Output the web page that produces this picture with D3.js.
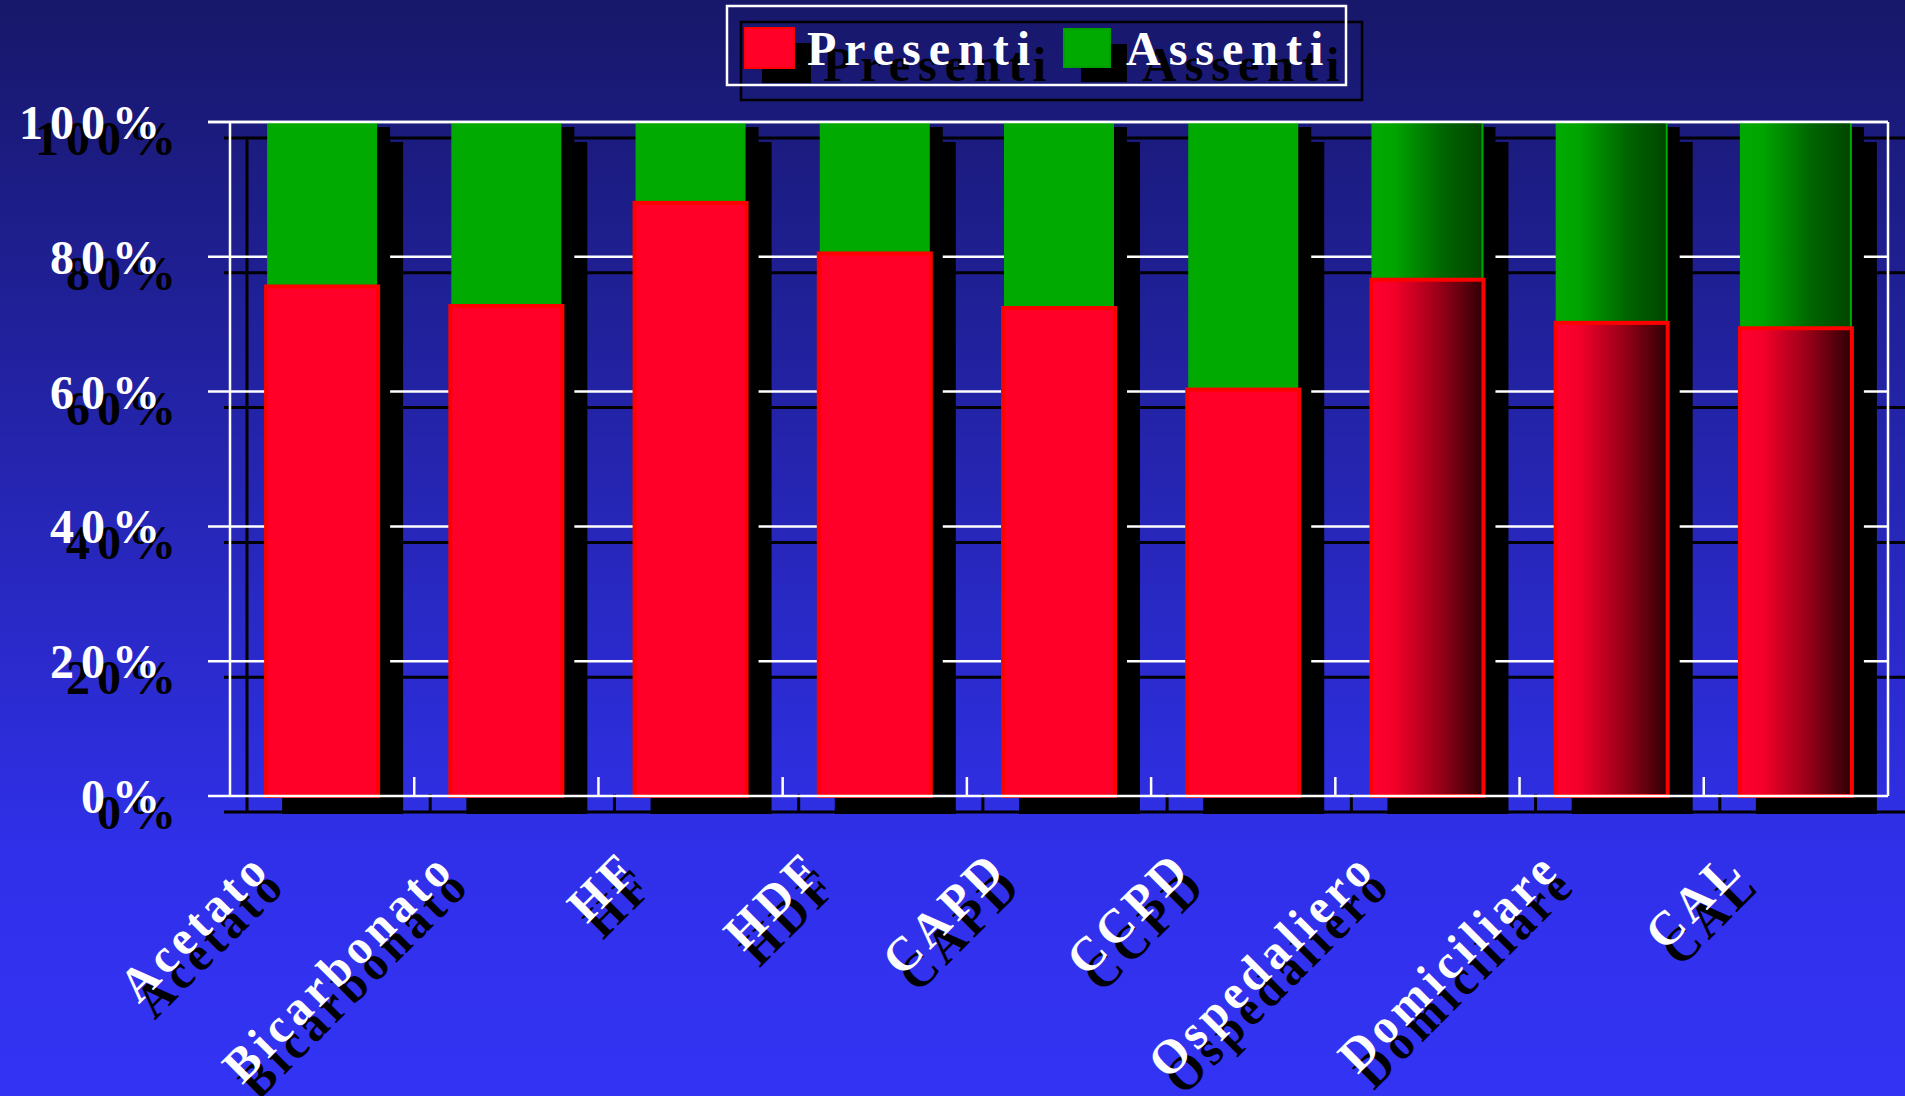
<!DOCTYPE html>
<html>
<head>
<meta charset="utf-8">
<script src="https://cdn.jsdelivr.net/npm/d3@7"></script>
<style>
  html, body { margin: 0; padding: 0; background: #2a2ad0; }
  svg { display: block; }
</style>
</head>
<body>
<div id="chart"></div>
<script>
// ---- data ----
const categories = ["Acetato", "Bicarbonato", "HF", "HDF", "CAPD", "CCPD", "Ospedaliero", "Domiciliare", "CAL"];
const presenti = [75.6, 72.7, 88.0, 80.5, 72.4, 60.3, 76.6, 70.2, 69.4];
const assenti = [24.4, 27.3, 12.0, 19.5, 27.6, 39.7, 23.4, 29.8, 30.6];
const seriesNames = ["Presenti", "Assenti"];
const yTicks = [0, 20, 40, 60, 80, 100];
const yTickLabels = ["0%", "20%", "40%", "60%", "80%", "100%"];
// categories drawn with a shaded (gradient) fill
const shadedCategories = ["Ospedaliero", "Domiciliare", "CAL"];

// ---- layout ----
const W = 1905, H = 1096;
const plot = { left: 230, right: 1888, top: 122, bottom: 796 };
const SH = { dx: 16, dy: 16 };           // drop-shadow offset
const FONT = "'Liberation Serif', 'Times New Roman', serif";

const svg = d3.select("#chart").append("svg")
  .attr("width", W).attr("height", H);

const defs = svg.append("defs");
const bg = defs.append("linearGradient").attr("id", "bg")
  .attr("x1", 0).attr("y1", 0).attr("x2", 0).attr("y2", 1);
bg.append("stop").attr("offset", "0").attr("stop-color", "#17176a");
bg.append("stop").attr("offset", "0.78").attr("stop-color", "#3030ea");
bg.append("stop").attr("offset", "1").attr("stop-color", "#3333f4");

const gRed = defs.append("linearGradient").attr("id", "gradRed")
  .attr("x1", 0).attr("y1", 0).attr("x2", 1).attr("y2", 0);
gRed.append("stop").attr("offset", "0").attr("stop-color", "#ff0030");
gRed.append("stop").attr("offset", "0.2").attr("stop-color", "#f5002a");
gRed.append("stop").attr("offset", "0.6").attr("stop-color", "#9a0018");
gRed.append("stop").attr("offset", "1").attr("stop-color", "#2e0005");

const gGreen = defs.append("linearGradient").attr("id", "gradGreen")
  .attr("x1", 0).attr("y1", 0).attr("x2", 1).attr("y2", 0);
gGreen.append("stop").attr("offset", "0").attr("stop-color", "#00aa00");
gGreen.append("stop").attr("offset", "0.2").attr("stop-color", "#00a400");
gGreen.append("stop").attr("offset", "0.65").attr("stop-color", "#006400");
gGreen.append("stop").attr("offset", "1").attr("stop-color", "#004600");

svg.append("rect").attr("width", W).attr("height", H).attr("fill", "url(#bg)");

// ---- scales ----
const x = d3.scaleBand().domain(categories)
  .range([plot.left, plot.right]).paddingInner(0.392).paddingOuter(0.196);
const y = d3.scaleLinear().domain([0, 100]).range([plot.bottom, plot.top]);

const rows = categories.map((c, i) => ({ cat: c, p: presenti[i], a: assenti[i], shaded: shadedCategories.includes(c) }));
const bw = x.bandwidth();
const step = x.step();
const boundaries = d3.range(1, categories.length).map(k => plot.left + k * step);

// ---- shadow copy of the chart (black) ----
const shadow = svg.append("g").attr("class", "shadow");
shadow.selectAll("line.sg").data(yTicks).join("line")
  .attr("x1", plot.left - 22 + SH.dx).attr("x2", W)
  .attr("y1", d => y(d) + SH.dy).attr("y2", d => y(d) + SH.dy)
  .attr("stroke", "#000").attr("stroke-width", 3);
shadow.append("line")
  .attr("x1", plot.left + 17).attr("x2", plot.left + 17)
  .attr("y1", plot.top + SH.dy).attr("y2", plot.bottom + SH.dy)
  .attr("stroke", "#000").attr("stroke-width", 3);
shadow.selectAll("line.st").data(boundaries).join("line")
  .attr("x1", d => d + SH.dx).attr("x2", d => d + SH.dx)
  .attr("y1", plot.bottom + SH.dy - 18).attr("y2", plot.bottom + SH.dy)
  .attr("stroke", "#000").attr("stroke-width", 3);
// far bar shadows
shadow.selectAll("rect.fs").data(rows).join("rect")
  .attr("x", d => x(d.cat) + 16)
  .attr("y", d => y(100) + 20)
  .attr("width", bw + 9)
  .attr("height", d => y(0) - y(100) - 2)
  .attr("fill", "#000");

// ---- white grid & frame ----
const grid = svg.append("g");
grid.selectAll("line.g").data(yTicks.filter(t => t > 0)).join("line")
  .attr("x1", plot.left - 22).attr("x2", plot.right)
  .attr("y1", d => y(d)).attr("y2", d => y(d))
  .attr("stroke", "#fff").attr("stroke-width", 2.5);
grid.append("line")
  .attr("x1", plot.left).attr("x2", plot.left)
  .attr("y1", plot.top).attr("y2", plot.bottom)
  .attr("stroke", "#fff").attr("stroke-width", 2.5);
grid.append("line")
  .attr("x1", plot.right).attr("x2", plot.right)
  .attr("y1", plot.top).attr("y2", plot.bottom)
  .attr("stroke", "#fff").attr("stroke-width", 2.5);

// near bar shadows
svg.append("g").selectAll("rect").data(rows).join("rect")
  .attr("x", d => x(d.cat) + 10)
  .attr("y", d => y(100) + 5)
  .attr("width", bw + 2)
  .attr("height", d => y(0) - y(100) - 5)
  .attr("fill", "#000");

// ---- bars ----
const bars = svg.append("g");
bars.selectAll("rect.assenti").data(rows).join("rect")
  .attr("class", "assenti")
  .attr("x", d => x(d.cat) + 1)
  .attr("y", d => y(d.p + d.a))
  .attr("width", bw - 2)
  .attr("height", d => y(d.p) - y(d.p + d.a))
  .attr("fill", d => d.shaded ? "url(#gradGreen)" : "#00aa00")
  .attr("stroke", d => d.shaded ? "#00a800" : "none")
  .attr("stroke-width", 2);
bars.selectAll("rect.presenti").data(rows).join("rect")
  .attr("class", "presenti")
  .attr("x", d => x(d.cat))
  .attr("y", d => y(d.p))
  .attr("width", bw)
  .attr("height", d => y(0) - y(d.p))
  .attr("fill", d => d.shaded ? "url(#gradRed)" : "#ff0028")
  .attr("stroke", "#ff0000")
  .attr("stroke-width", 4);

// baseline and x ticks (white, on top)
svg.append("line")
  .attr("x1", plot.left - 22).attr("x2", plot.right)
  .attr("y1", y(0)).attr("y2", y(0))
  .attr("stroke", "#fff").attr("stroke-width", 2.5);
svg.append("line")
  .attr("x1", plot.left - 22).attr("x2", plot.right)
  .attr("y1", y(100)).attr("y2", y(100))
  .attr("stroke", "#fff").attr("stroke-width", 2.5);
svg.append("g").selectAll("line").data(boundaries).join("line")
  .attr("x1", d => d).attr("x2", d => d)
  .attr("y1", plot.bottom - 19).attr("y2", plot.bottom)
  .attr("stroke", "#fff").attr("stroke-width", 2.5);

// ---- y axis labels ----
const yl = svg.append("g")
  .attr("font-family", FONT).attr("font-weight", "bold")
  .attr("font-size", 48).attr("letter-spacing", 7).attr("text-anchor", "end");
[["#000", SH.dx, SH.dy], ["#fff", 0, 0]].forEach(([col, ox, oy]) => {
  yl.append("g").selectAll("text").data(yTicks).join("text")
    .attr("x", 167 + ox).attr("y", d => y(d) + 17 + oy)
    .attr("fill", col)
    .text((d, i) => yTickLabels[i]);
});

// ---- x axis labels ----
const xl = svg.append("g")
  .attr("font-family", FONT).attr("font-weight", "bold")
  .attr("font-size", 48).attr("letter-spacing", 4.5).attr("text-anchor", "end");
[["#000", SH.dx, SH.dy], ["#fff", 0, 0]].forEach(([col, ox, oy]) => {
  xl.append("g").selectAll("text").data(categories).join("text")
    .attr("transform", d => `translate(${x(d) + bw / 2 - 50 + ox},${871 + oy}) rotate(-45)`)
    .attr("fill", col)
    .text(d => d);
});

// ---- legend ----
const lg = svg.append("g");
lg.append("rect").attr("x", 741).attr("y", 22).attr("width", 621).attr("height", 78)
  .attr("fill", "none").attr("stroke", "#000").attr("stroke-width", 2.5);
lg.append("rect").attr("x", 727).attr("y", 6).attr("width", 619).attr("height", 79)
  .attr("fill", "none").attr("stroke", "#fff").attr("stroke-width", 2.5);
const legendItems = [
  { name: seriesNames[0], sx: 745, sw: 49, sy: 28, sh: 40, fill: "#ff0028", stroke: "#ff0000", tx: 807 },
  { name: seriesNames[1], sx: 1064, sw: 46, sy: 29, sh: 38, fill: "#00aa00", stroke: "#00a000", tx: 1126 }
];
legendItems.forEach(it => {
  lg.append("rect").attr("x", it.sx + 17).attr("y", it.sy + 15)
    .attr("width", it.sw).attr("height", it.sh).attr("fill", "#000");
  lg.append("text").attr("x", it.tx + SH.dx).attr("y", 65 + SH.dy)
    .attr("font-family", FONT).attr("font-weight", "bold").attr("font-size", 48)
    .attr("letter-spacing", 8).attr("fill", "#000").text(it.name);
});
legendItems.forEach(it => {
  lg.append("rect").attr("x", it.sx).attr("y", it.sy)
    .attr("width", it.sw).attr("height", it.sh)
    .attr("fill", it.fill).attr("stroke", it.stroke).attr("stroke-width", 2);
  lg.append("text").attr("x", it.tx).attr("y", 65)
    .attr("font-family", FONT).attr("font-weight", "bold").attr("font-size", 48)
    .attr("letter-spacing", 8).attr("fill", "#fff").text(it.name);
});
</script>
</body>
</html>
